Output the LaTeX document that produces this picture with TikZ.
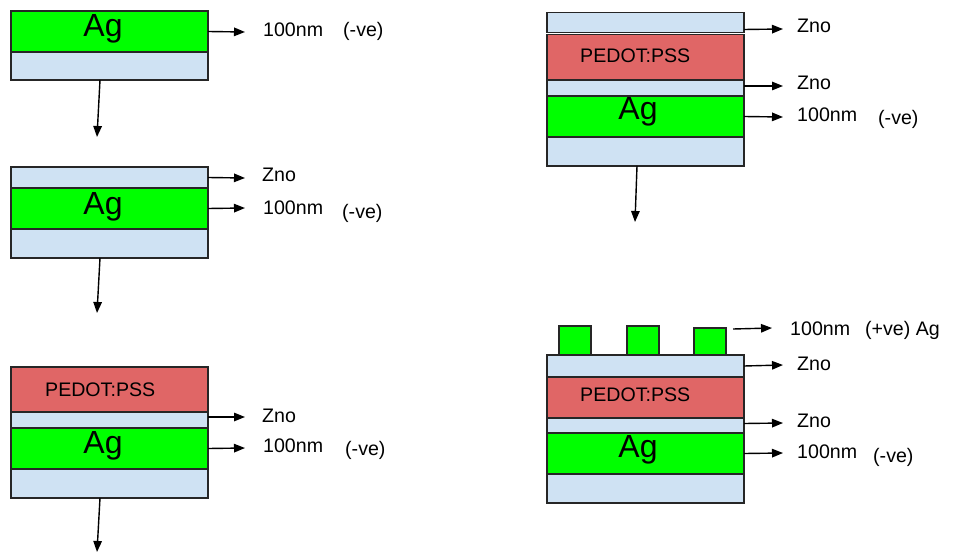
\documentclass[tikz,border=0pt]{standalone}
\usepackage{fontspec}
\setmainfont{Liberation Sans}
\usetikzlibrary{arrows.meta}
\definecolor{agg}{HTML}{00FF00}
\definecolor{znob}{HTML}{CFE2F3}
\definecolor{pedr}{HTML}{E06666}
\begin{document}
\begin{tikzpicture}[x=1pt,y=-1pt,
  layer/.style={draw=black!85,line width=1.5pt,minimum width=197pt,inner sep=0pt,outer sep=0pt,anchor=north west},
  aglay/.style={layer,fill=agg},
  znolay/.style={layer,fill=znob},
  pedlay/.style={layer,fill=pedr},
  dot/.style={draw=black!85,line width=1.5pt,fill=agg,inner sep=0pt,outer sep=0pt,minimum width=32pt,anchor=north west},
  lbl/.style={font=\fontsize{19.6}{19.6}\selectfont,anchor=base west,inner sep=0pt},
  agtxt/.style={font=\fontsize{32}{32}\selectfont,anchor=base,inner sep=0pt},
  pedtxt/.style={font=\fontsize{19.6}{19.6}\selectfont,anchor=base west,inner sep=0pt},
  conn/.style={line width=1.4pt,-{Triangle[length=11pt,width=8.5pt]}},
]
\useasboundingbox (0,0) rectangle (957,556);
% ---------- stack 1 ----------
\node[aglay,minimum height=41pt] (s1ag) at (11,11) {};
\node[znolay,minimum height=28pt] (s1sub) at (11,52) {};
\node[agtxt] (s1agt) at (103,37) {Ag};
\node[lbl] (s1nm) at (263,37) {100nm};
\node[lbl] (s1ve) at (343,37) {(-ve)};
\coordinate (s1a) at (245,32);
\draw[conn] (s1ag.east) -- (s1a);
\coordinate (s1d) at (97,137);
\draw[conn] (s1sub.south -| 100,0) -- (s1d);
% ---------- stack 2 ----------
\node[znolay,minimum height=21pt] (s2zno) at (11,167) {};
\node[aglay,minimum height=41pt] (s2ag) at (11,188) {};
\node[znolay,minimum height=29pt] (s2sub) at (11,229) {};
\node[agtxt] (s2agt) at (103,214) {Ag};
\node[lbl] (s2zt) at (262,182) {Zno};
\node[lbl] (s2nm) at (263,214) {100nm};
\node[lbl] (s2ve) at (342,218) {(-ve)};
\coordinate (s2a) at (245,178);
\coordinate (s2b) at (245,208);
\draw[conn] (s2zno.east) -- (s2a);
\draw[conn] (s2ag.east) -- (s2b);
\coordinate (s2d) at (97,313);
\draw[conn] (s2sub.south -| 100,0) -- (s2d);
% ---------- stack 3 ----------
\node[pedlay,minimum height=45pt] (s3ped) at (11,367) {};
\node[znolay,minimum height=16pt] (s3zno) at (11,412) {};
\node[aglay,minimum height=41pt] (s3ag) at (11,428) {};
\node[znolay,minimum height=29pt] (s3sub) at (11,469) {};
\node[pedtxt] (s3pt) at (45,396) {PEDOT:PSS};
\node[agtxt] (s3agt) at (103,453) {Ag};
\node[lbl] (s3zt) at (262,422) {Zno};
\node[lbl] (s3nm) at (263,452) {100nm};
\node[lbl] (s3ve) at (345,455) {(-ve)};
\coordinate (s3a) at (245,417);
\coordinate (s3b) at (245,448);
\draw[conn] ([yshift=3pt]s3zno.east) -- (s3a);
\draw[conn] (s3ag.east) -- (s3b);
\coordinate (s3d) at (97,552);
\draw[conn] (s3sub.south -| 100,0) -- (s3d);
% ---------- stack 4 ----------
\node[znolay,minimum height=20pt] (s4top) at (547,12.5) {};
\node[pedlay,minimum height=45pt] (s4ped) at (547,34.5) {};
\node[znolay,minimum height=16pt] (s4zno) at (547,80) {};
\node[aglay,minimum height=41pt] (s4ag) at (547,96) {};
\node[znolay,minimum height=29pt] (s4sub) at (547,137) {};
\node[pedtxt] (s4pt) at (580,63) {PEDOT:PSS};
\node[agtxt] (s4agt) at (638,120) {Ag};
\node[lbl] (s4zt) at (797,33) {Zno};
\node[lbl] (s4zt2) at (797,90) {Zno};
\node[lbl] (s4nm) at (797,122) {100nm};
\node[lbl] (s4ve) at (878,125) {(-ve)};
\coordinate (s4a) at (783,29);
\coordinate (s4b) at (783,86);
\coordinate (s4c) at (783,117);
\draw[conn] ([yshift=-7pt]s4top.east) -- (s4a);
\draw[conn] ([yshift=2pt]s4zno.east) -- (s4b);
\draw[conn] (s4ag.east) -- (s4c);
\coordinate (s4d) at (635,222);
\draw[conn] (s4sub.south -| 637,0) -- (s4d);
% ---------- stack 5 ----------
\node[dot,minimum height=30pt] (q1) at (559,326) {};
\node[dot,minimum height=29pt] (q2) at (627,326) {};
\node[dot,minimum height=28pt] (q3) at (694,328) {};
\node[znolay,minimum height=22pt] (s5top) at (547,355) {};
\node[pedlay,minimum height=41pt] (s5ped) at (547,377) {};
\node[znolay,minimum height=15pt] (s5zno) at (547,418) {};
\node[aglay,minimum height=41pt] (s5ag) at (547,433) {};
\node[znolay,minimum height=29pt] (s5sub) at (547,474) {};
\node[pedtxt] (s5pt) at (580,401) {PEDOT:PSS};
\node[agtxt] (s5agt) at (638,457) {Ag};
\node[lbl] (s5nm1) at (790,335) {100nm};
\node[lbl] (s5pve) at (865,335) {(+ve) Ag};
\node[lbl] (s5zt) at (797,370) {Zno};
\node[lbl] (s5zt2) at (797,427) {Zno};
\node[lbl] (s5nm) at (797,458) {100nm};
\node[lbl] (s5ve) at (873,462) {(-ve)};
\coordinate (s5s) at (733,329);
\coordinate (s5t) at (772,328);
\draw[conn] (s5s) -- (s5t);
\coordinate (s5a) at (783,365);
\coordinate (s5b) at (783,423);
\coordinate (s5c) at (783,453);
\draw[conn] (s5top.east) -- (s5a);
\draw[conn] ([yshift=2pt]s5zno.east) -- (s5b);
\draw[conn] (s5ag.east) -- (s5c);
\end{tikzpicture}
\end{document}
